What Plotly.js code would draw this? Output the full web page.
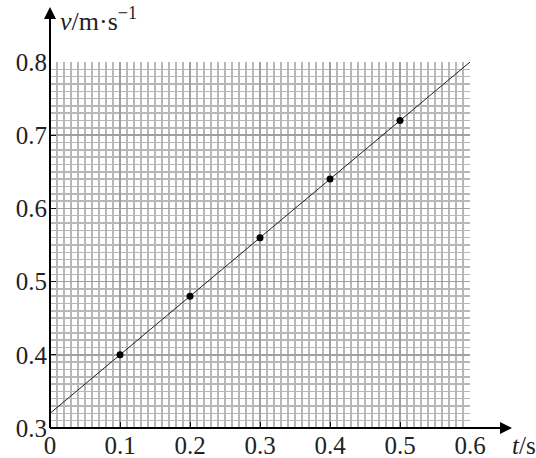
<!DOCTYPE html>
<html><head><meta charset="utf-8">
<script src="https://cdn.plot.ly/plotly-3.0.1.min.js"></script>
<style>body{margin:0;background:#fff}#c{width:536px;height:458px}</style>
</head><body><div id="c"></div>
<script>
const tValues = [0.1, 0.2, 0.3, 0.4, 0.5];
const vValues = [0.40, 0.48, 0.56, 0.64, 0.72];
const fitT = [0, 0.6];
const fitV = [0.32, 0.80];
const xTicks = [0, 0.1, 0.2, 0.3, 0.4, 0.5, 0.6];
const xTickText = ['0', '0.1', '0.2', '0.3', '0.4', '0.5', '0.6'];
const yTicks = [0.3, 0.4, 0.5, 0.6, 0.7, 0.8];
const yTickText = ['0.3', '0.4', '0.5', '0.6', '0.7', '0.8'];

const serif = '"Liberation Serif", "Times New Roman", serif';
const fs = 25;
const traces = [
  {x: fitT, y: fitV, mode: 'lines', line: {color: '#222', width: 1}, hoverinfo: 'skip', cliponaxis: false},
  {x: tValues, y: vValues, mode: 'markers', marker: {color: '#000', size: 7}, cliponaxis: false}
];
const layout = {
  width: 536, height: 458, showlegend: false,
  paper_bgcolor: '#fff', plot_bgcolor: '#fff',
  margin: {l: 50, r: 66, t: 62, b: 30},
  font: {family: serif, size: fs, color: '#222'},
  xaxis: {range: [0, 0.6], tickvals: xTicks, ticktext: xTickText, ticks: 'inside', ticklen: 6,
    tickcolor: '#111', showgrid: true, gridcolor: '#a0a0a0', gridwidth: 1.5, zeroline: false,
    showline: false, ticklabelstandoff: 0, tickfont: {family: serif, size: fs, color: '#222'},
    minor: {dtick: 0.01, showgrid: true, gridcolor: '#b8b8b8', gridwidth: 1.5}, fixedrange: true},
  yaxis: {range: [0.3, 0.8], tickvals: yTicks, ticktext: yTickText, ticks: 'inside', ticklen: 6,
    tickcolor: '#111', showgrid: true, gridcolor: '#a0a0a0', gridwidth: 1.5, zeroline: false,
    showline: false, ticklabelstandoff: 2, tickfont: {family: serif, size: fs, color: '#222'},
    minor: {dtick: 0.01, showgrid: true, gridcolor: '#b8b8b8', gridwidth: 1.5}, fixedrange: true},
  shapes: [
    {type: 'line', xref: 'paper', yref: 'paper', x0: 0, y0: 0, x1: 0, y1: 1.13, line: {color: '#000', width: 2}},
    {type: 'line', xref: 'paper', yref: 'paper', x0: 0, y0: 0, x1: 1.08, y1: 0, line: {color: '#000', width: 2}}
  ],
  annotations: [
    {xref: 'paper', yref: 'paper', x: 0, y: 1.15, ax: 0, ay: 14, showarrow: true, arrowhead: 2, arrowsize: 1.2,
      arrowwidth: 2, arrowcolor: '#000', text: ''},
    {xref: 'paper', yref: 'paper', x: 1.1, y: 0, ax: -14, ay: 0, showarrow: true, arrowhead: 2, arrowsize: 1.2,
      arrowwidth: 2, arrowcolor: '#000', text: ''},
    {xref: 'paper', yref: 'paper', x: 0.02, y: 1.065, xanchor: 'left', yanchor: 'bottom', showarrow: false,
      text: '<i>v</i>/m·s<sup>−1</sup>', font: {family: serif, size: fs + 1, color: '#222'}},
    {xref: 'paper', yref: 'paper', x: 1.095, y: -0.005, xanchor: 'left', yanchor: 'top', showarrow: false,
      text: '<i>t</i>/s', font: {family: serif, size: fs, color: '#222'}}
  ]
};
Plotly.newPlot('c', traces, layout, {displayModeBar: false, staticPlot: true});
</script></body></html>
